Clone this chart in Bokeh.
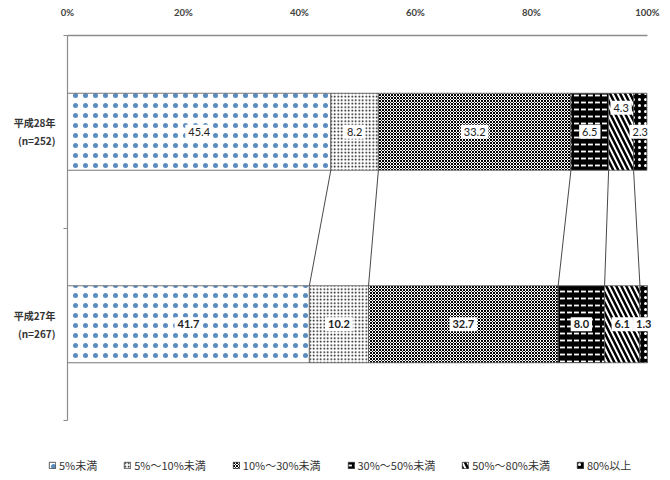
import numpy as np
from bokeh.plotting import figure
from bokeh.models import (ColumnDataSource, Range1d, FixedTicker, PrintfTickFormatter,
                          Legend, LegendItem)
from bokeh.core.properties import value
from bokeh.embed import file_html
from bokeh.resources import INLINE

categories = ["平成27年\n(n=267)", "平成28年\n(n=252)"]
series = ["5%未満", "5%～10%未満", "10%～30%未満", "30%～50%未満", "50%～80%未満", "80%以上"]
h28 = [45.4, 8.2, 33.2, 6.5, 4.3, 2.3]
h27 = [41.7, 10.2, 32.7, 8.0, 6.1, 1.3]
x_ticks = [0, 20, 40, 60, 80, 100]

rows = [h27, h28]
ypos = [0.5, 1.5]
bar_h = 0.4

styles = [
    dict(fill_color="white", hatch_pattern=".", hatch_color="#5a8cc0", hatch_scale=10, hatch_weight=0.3),
    dict(fill_color="white", hatch_pattern=".", hatch_color="black", hatch_scale=3.5, hatch_weight=0.7),
    dict(fill_color="white", hatch_pattern="x", hatch_color="black", hatch_scale=3, hatch_weight=1),
    dict(fill_color="black", hatch_pattern='"', hatch_color="white", hatch_scale=7, hatch_weight=1.8),
    dict(fill_color="white", hatch_pattern="\\", hatch_color="black", hatch_scale=10, hatch_weight=2.5),
    dict(fill_color="black", hatch_pattern=".", hatch_color="white", hatch_scale=6, hatch_weight=0.7),
]

NUM_FONT = "Lato"
JP_FONT = "Noto Sans CJK JP"

W, H = 668, 426
LEFT, RIGHT, TOP, BOTTOM = 67, 9, 35, 2
frame_w = W - LEFT - RIGHT
frame_h = H - TOP - BOTTOM
px_100 = 580.0          # pixels covered by 0..100 %
px_2 = 385.0            # pixels covered by the two category bands
x_end = 100.0 * frame_w / px_100
y_start = 2.0 - 2.0 * frame_h / px_2

p = figure(width=W, height=H, output_backend="svg", toolbar_location=None,
           x_range=Range1d(0, x_end), y_range=Range1d(y_start, 2),
           x_axis_location="above", min_border_left=LEFT, min_border_top=TOP,
           min_border_right=RIGHT, min_border_bottom=BOTTOM)
p.outline_line_color = None
p.grid.visible = False

cums = [np.concatenate([[0], np.cumsum(r)]) for r in rows]

for i, name in enumerate(series):
    src = ColumnDataSource(dict(y=ypos, left=[c[i] for c in cums], right=[c[i + 1] for c in cums]))
    p.hbar(y="y", left="left", right="right", height=bar_h, source=src,
           line_color="#555555", line_width=0.8, **styles[i])

# connector lines between the bars
b28 = cums[1][1:-1]
b27 = cums[0][1:-1]
p.segment(x0=b28, y0=[ypos[1] - bar_h / 2] * len(b28), x1=b27, y1=[ypos[0] + bar_h / 2] * len(b27),
          line_color="#333333", line_width=0.9)

# value labels
label_dy = [[0, 0, 0, 0, 0, 0], [0, 0, 0, 0, -24, 0]]
for k, (r, y) in enumerate(zip(rows, ypos)):
    c = cums[k]
    src = ColumnDataSource(dict(x=(c[:-1] + c[1:]) / 2, y=[y] * len(r),
                                text=["%.1f" % v for v in r], dy=label_dy[k]))
    p.text(x="x", y="y", text="text", y_offset="dy", source=src,
           text_align="center", text_baseline="middle",
           text_font=value(NUM_FONT), text_font_size="11px",
           text_font_style="bold" if k == 0 else "normal",
           text_color="#222222", background_fill_color="white", padding=3)

# top axis
xa = p.xaxis[0]
xa.ticker = FixedTicker(ticks=x_ticks)
xa.bounds = (0, 100)
xa.formatter = PrintfTickFormatter(format="%d%%")
xa.axis_line_color = "#8c8c8c"
xa.axis_line_width = 1.5
xa.major_tick_line_color = None
xa.minor_tick_line_color = None
xa.major_label_text_font = NUM_FONT
xa.major_label_text_font_style = "bold"
xa.major_label_text_font_size = "9.5px"
xa.major_label_text_color = "#404040"
xa.major_label_standoff = 12

# left axis
ya = p.yaxis[0]
ya.ticker = FixedTicker(ticks=ypos, minor_ticks=[0, 1, 2])
ya.bounds = (0, 2)
ya.major_label_overrides = {ypos[0]: categories[0], ypos[1]: categories[1]}
ya.axis_line_color = "#8c8c8c"
ya.axis_line_width = 1.2
ya.major_tick_out = 0
ya.major_tick_in = 0
ya.minor_tick_out = 4
ya.minor_tick_in = 0
ya.minor_tick_line_color = "#8c8c8c"
ya.major_label_text_font = JP_FONT
ya.major_label_text_font_style = "bold"
ya.major_label_text_font_size = "10px"
ya.major_label_text_color = "#333333"
ya.major_label_standoff = 8

# legend strip below the chart (its swatch glyphs sit outside the visible range)
lg = figure(width=W, height=50, output_backend="svg", toolbar_location=None,
            x_range=Range1d(0, 1), y_range=Range1d(0, 1),
            x_axis_location=None, y_axis_location=None,
            min_border_left=0, min_border_right=0, min_border_top=0, min_border_bottom=0)
lg.grid.visible = False
lg.outline_line_color = None
items = []
for i, name in enumerate(series):
    r = lg.hbar(y=[-5], left=[0], right=[1], height=0.1,
                line_color="#333333", line_width=0.8, **styles[i])
    items.append(LegendItem(label=name, renderers=[r]))
legend = Legend(items=items, orientation="horizontal", location=(48, 3),
                label_text_font=JP_FONT, label_text_font_size="11px", label_text_color="#333333",
                glyph_width=8, glyph_height=8, label_standoff=3, spacing=26,
                border_line_color=None, background_fill_alpha=0, margin=0, padding=2,
                label_height=12)
lg.add_layout(legend)

open("out.html", "w").write(file_html([p, lg], INLINE))
